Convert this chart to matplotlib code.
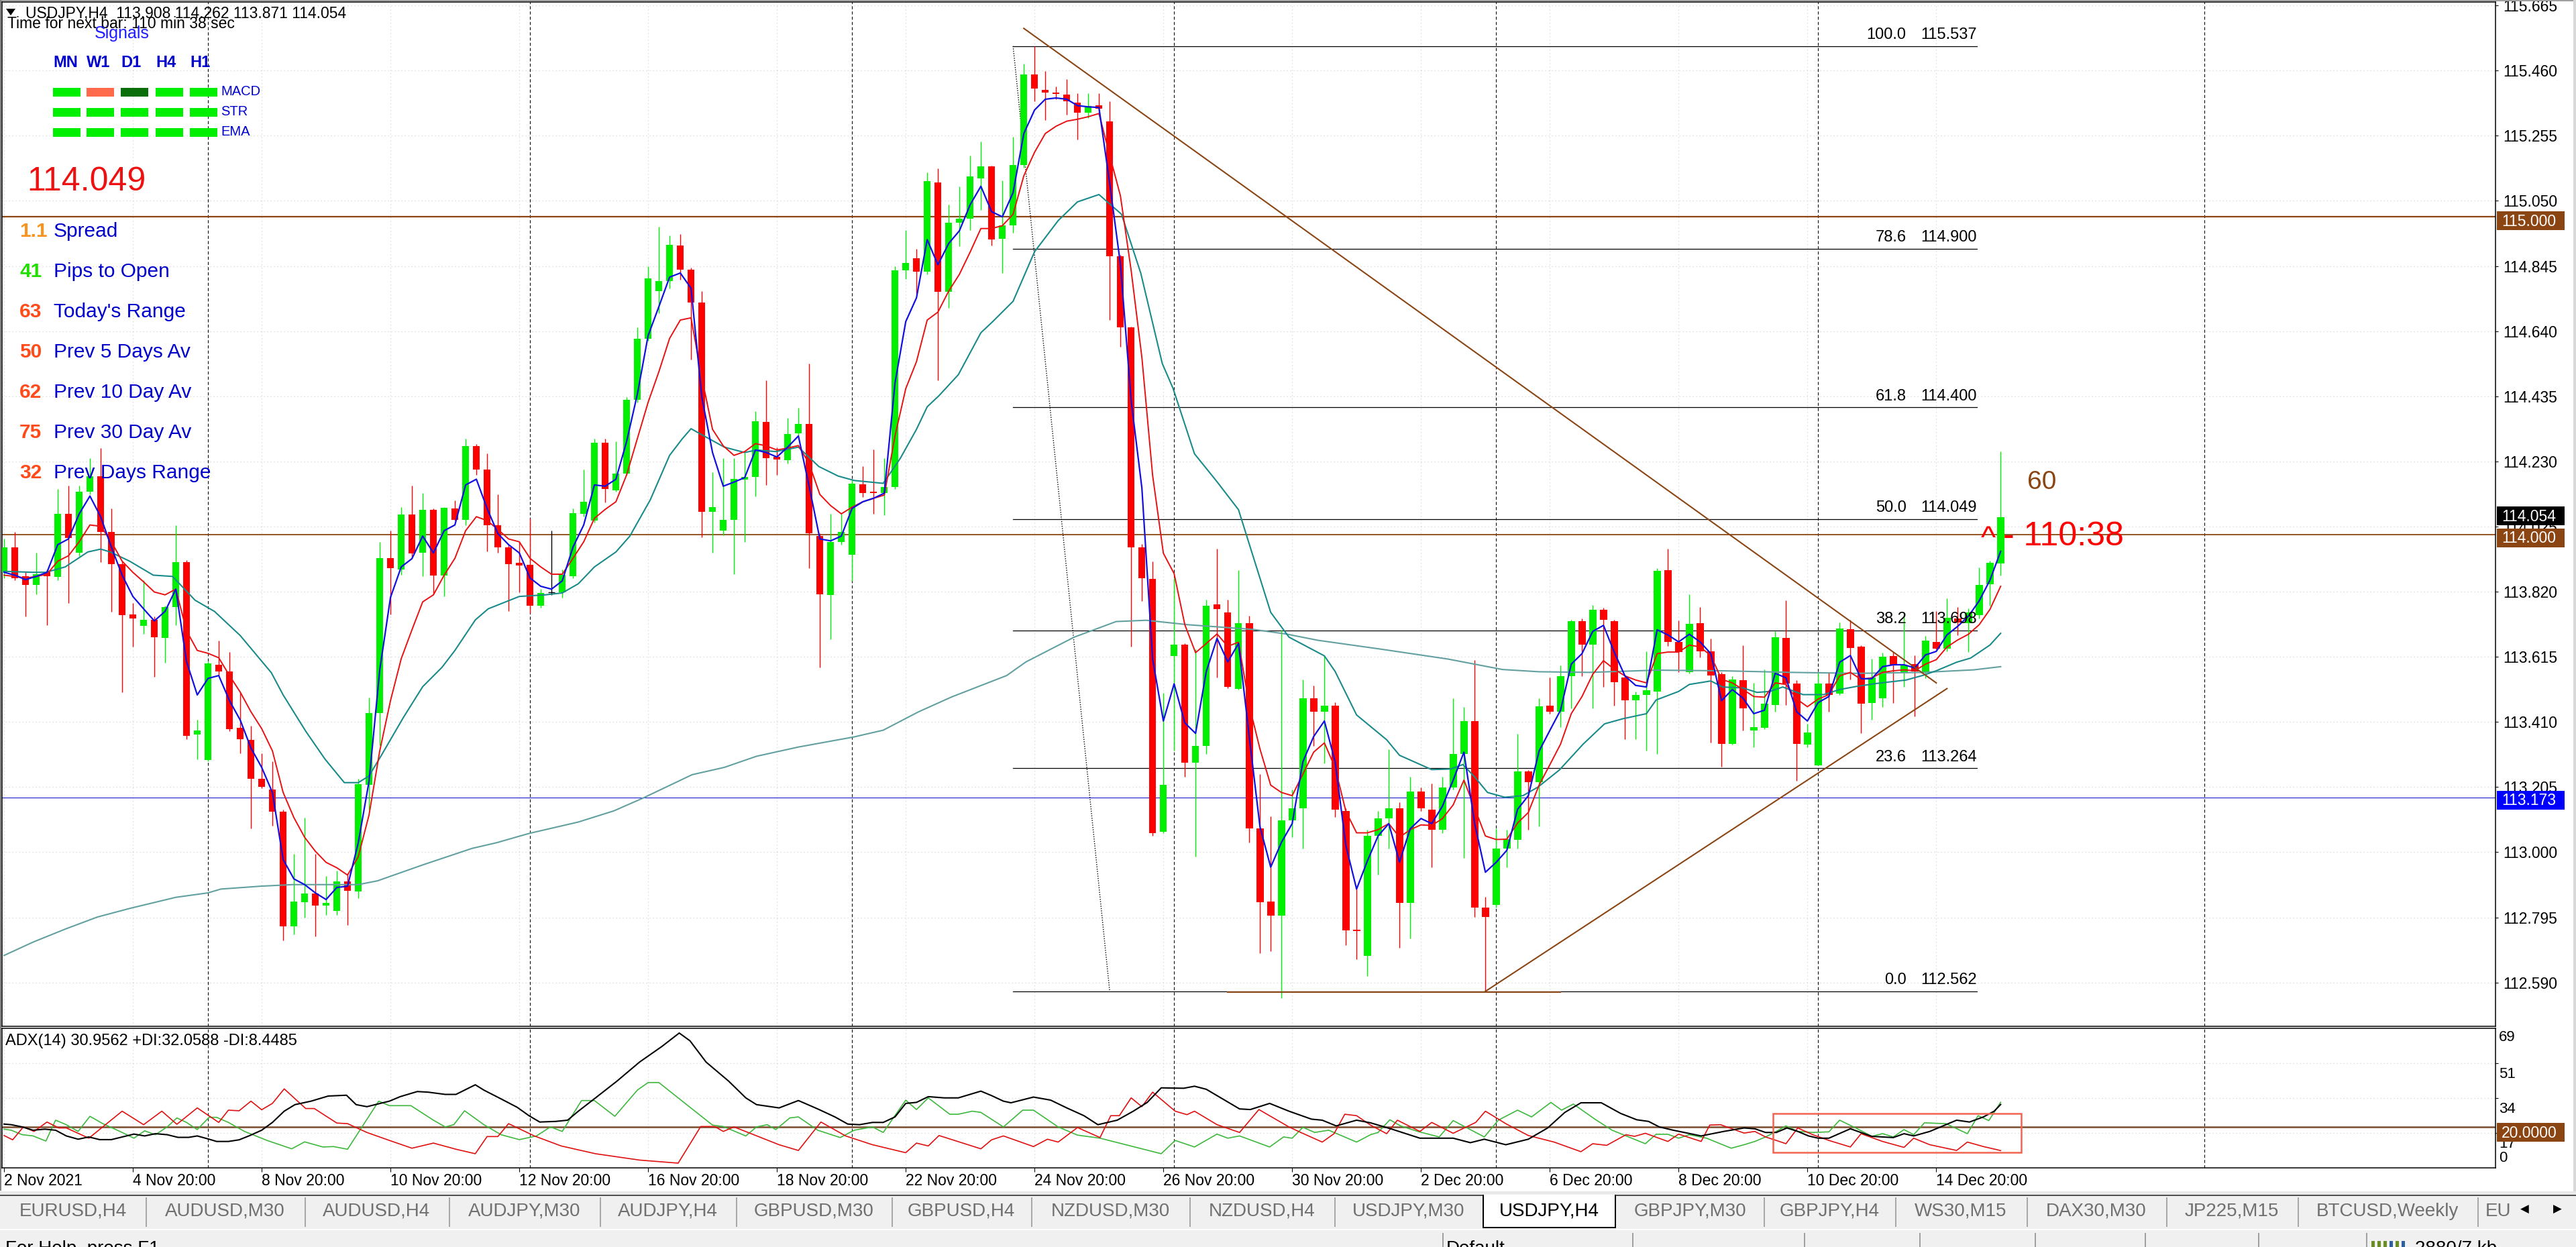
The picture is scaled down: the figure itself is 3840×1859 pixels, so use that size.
import matplotlib
matplotlib.use('Agg')
import matplotlib.pyplot as plt
from matplotlib.patches import Rectangle, Polygon
import numpy as np

plt.rcParams['font.family'] = ['Liberation Sans', 'DejaVu Sans']

# ---------------- data ----------------
opens = [
    113.881, 113.960, 113.869, 113.841, 113.881, 113.867, 114.065, 113.942, 114.135, 114.183,
    114.007, 113.907, 113.748, 113.713, 113.732, 113.674, 113.772, 113.914, 113.370, 113.290,
    113.591, 113.569, 113.391, 113.353, 113.232, 113.197, 113.127, 112.767, 112.842, 112.869,
    112.832, 112.816, 112.907, 112.876, 113.213, 113.437, 113.925, 113.890, 114.063, 113.942,
    114.077, 113.870, 114.083, 114.047, 114.279, 114.205, 114.030, 113.960, 113.910, 113.905,
    113.775, 113.819, 113.819, 113.868, 114.065, 114.044, 114.288, 114.140, 114.191, 114.424,
    114.617, 114.766, 114.798, 114.910, 114.833, 114.730, 114.072, 114.012, 114.047, 114.173,
    114.182, 114.354, 114.244, 114.233, 114.319, 114.349, 113.995, 113.809, 113.977, 113.937,
    114.159, 114.135, 114.131, 114.149, 114.831, 114.870, 114.828, 115.109, 114.763, 114.982,
    114.995, 115.121, 115.158, 114.930, 114.973, 115.164, 115.448, 115.399, 115.391, 115.385,
    115.360, 115.327, 115.350, 115.301, 114.875, 114.652, 113.959, 113.861, 113.064, 113.618,
    113.653, 113.282, 113.335, 113.779, 113.755, 113.515, 113.720, 113.074, 112.845, 112.800,
    113.100, 113.139, 113.485, 113.442, 113.462, 113.129, 112.757, 112.673, 113.051, 113.106,
    113.139, 112.841, 113.192, 113.133, 113.071, 113.203, 113.309, 113.413, 112.826, 112.835,
    113.012, 113.039, 113.254, 113.221, 113.462, 113.443, 113.555, 113.727, 113.654, 113.764,
    113.727, 113.549, 113.479, 113.496, 113.506, 113.888, 113.662, 113.566, 113.721, 113.632,
    113.560, 113.340, 113.542, 113.383, 113.391, 113.464, 113.675, 113.531, 113.338, 113.273,
    113.531, 113.499, 113.702, 113.646, 113.469, 113.484, 113.617, 113.566, 113.592, 113.566,
    113.662, 113.641, 113.735, 113.721, 113.746, 113.843, 113.908]
highs = [
    113.986, 114.007, 113.881, 113.942, 113.890, 114.144, 114.153, 114.153, 114.240, 114.272,
    114.083, 113.916, 113.784, 113.855, 113.741, 113.776, 114.030, 113.920, 113.416, 113.600,
    113.665, 113.630, 113.504, 113.398, 113.311, 113.285, 113.135, 112.995, 113.109, 112.995,
    112.925, 112.942, 112.934, 113.232, 113.486, 113.977, 114.012, 114.086, 114.153, 114.130,
    114.083, 114.086, 114.107, 114.302, 114.284, 114.255, 114.126, 113.968, 113.977, 114.051,
    113.828, 114.012, 113.889, 114.082, 114.205, 114.302, 114.302, 114.293, 114.433, 114.652,
    114.845, 114.968, 114.942, 114.945, 114.840, 114.766, 114.196, 114.240, 114.240, 114.258,
    114.389, 114.486, 114.275, 114.366, 114.398, 114.538, 114.003, 114.065, 114.065, 114.170,
    114.214, 114.267, 114.240, 114.845, 114.959, 114.898, 115.140, 115.152, 115.038, 115.096,
    115.193, 115.237, 115.161, 115.115, 115.252, 115.481, 115.537, 115.458, 115.409, 115.434,
    115.389, 115.389, 115.389, 115.364, 114.881, 114.655, 113.971, 113.916, 113.501, 113.863,
    113.657, 113.638, 113.794, 113.955, 113.794, 113.888, 113.745, 113.246, 113.113, 113.700,
    113.198, 113.544, 113.524, 113.618, 113.472, 113.139, 112.884, 113.071, 113.129, 113.325,
    113.158, 113.237, 113.203, 113.217, 113.237, 113.485, 113.456, 113.605, 112.859, 113.074,
    113.071, 113.372, 113.259, 113.485, 113.549, 113.587, 113.732, 113.735, 113.778, 113.770,
    113.732, 113.555, 113.506, 113.632, 113.893, 113.955, 113.730, 113.811, 113.772, 113.673,
    113.566, 113.555, 113.652, 113.533, 113.576, 113.695, 113.793, 113.542, 113.404, 113.566,
    113.566, 113.724, 113.732, 113.652, 113.609, 113.627, 113.630, 113.750, 113.619, 113.681,
    113.759, 113.800, 113.772, 113.767, 113.896, 113.917, 114.262]
lows = [
    113.863, 113.855, 113.741, 113.811, 113.714, 113.855, 113.784, 113.933, 114.126, 113.914,
    113.756, 113.504, 113.648, 113.688, 113.551, 113.597, 113.714, 113.355, 113.293, 113.285,
    113.556, 113.381, 113.311, 113.074, 113.202, 113.083, 112.723, 112.741, 112.793, 112.735,
    112.802, 112.802, 112.771, 112.855, 113.135, 113.337, 113.749, 113.872, 113.925, 113.869,
    113.811, 113.805, 114.044, 114.030, 114.188, 113.947, 113.942, 113.758, 113.819, 113.752,
    113.770, 113.810, 113.802, 113.863, 114.056, 114.038, 114.100, 114.135, 114.188, 114.416,
    114.609, 114.696, 114.775, 114.802, 114.551, 113.991, 113.942, 113.998, 113.875, 113.977,
    114.121, 114.156, 114.188, 114.223, 114.310, 113.893, 113.582, 113.670, 113.968, 113.854,
    114.117, 114.065, 114.061, 114.144, 114.805, 114.758, 114.819, 114.486, 114.714, 114.907,
    114.959, 115.021, 114.910, 114.822, 114.949, 115.155, 115.364, 115.305, 115.370, 115.321,
    115.243, 115.311, 115.321, 114.675, 114.591, 113.648, 113.790, 113.051, 113.061, 113.319,
    113.237, 112.986, 113.309, 113.550, 113.517, 113.511, 113.031, 112.683, 112.689, 112.540,
    113.047, 113.012, 113.335, 113.280, 113.110, 112.708, 112.663, 112.610, 112.929, 113.012,
    112.698, 112.728, 113.129, 112.953, 113.061, 113.198, 112.982, 112.796, 112.562, 112.826,
    112.953, 113.012, 113.071, 113.082, 113.436, 113.393, 113.453, 113.555, 113.453, 113.520,
    113.462, 113.356, 113.356, 113.320, 113.310, 113.649, 113.566, 113.563, 113.614, 113.345,
    113.270, 113.338, 113.383, 113.331, 113.387, 113.442, 113.463, 113.224, 113.331, 113.273,
    113.442, 113.496, 113.544, 113.374, 113.417, 113.456, 113.469, 113.520, 113.428, 113.547,
    113.639, 113.632, 113.682, 113.630, 113.735, 113.775, 113.871]
closes = [
    113.960, 113.863, 113.841, 113.876, 113.869, 114.065, 113.990, 114.135, 114.183, 114.007,
    113.907, 113.746, 113.735, 113.732, 113.676, 113.772, 113.912, 113.367, 113.384, 113.595,
    113.569, 113.388, 113.355, 113.232, 113.206, 113.127, 112.767, 112.844, 112.869, 112.832,
    112.841, 112.907, 112.878, 113.214, 113.437, 113.925, 113.893, 114.062, 113.940, 114.077,
    113.870, 114.084, 114.047, 114.279, 114.205, 114.030, 113.960, 113.907, 113.903, 113.775,
    113.816, 113.819, 113.872, 114.068, 114.103, 114.288, 114.144, 114.191, 114.423, 114.617,
    114.807, 114.798, 114.912, 114.833, 114.731, 114.072, 114.086, 114.047, 114.175, 114.182,
    114.356, 114.240, 114.237, 114.316, 114.349, 114.003, 113.812, 113.977, 114.007, 114.161,
    114.131, 114.131, 114.149, 114.831, 114.854, 114.828, 115.112, 114.763, 114.982, 114.995,
    115.126, 115.158, 114.928, 114.973, 115.164, 115.448, 115.403, 115.391, 115.387, 115.364,
    115.327, 115.348, 115.340, 114.875, 114.652, 113.959, 113.863, 113.061, 113.213, 113.653,
    113.282, 113.335, 113.775, 113.765, 113.520, 113.720, 113.074, 112.843, 112.800, 113.100,
    113.139, 113.485, 113.442, 113.462, 113.133, 112.753, 112.751, 113.051, 113.106, 113.139,
    112.841, 113.192, 113.139, 113.071, 113.203, 113.309, 113.413, 112.826, 112.796, 113.012,
    113.041, 113.254, 113.221, 113.460, 113.443, 113.555, 113.727, 113.654, 113.764, 113.732,
    113.536, 113.479, 113.496, 113.510, 113.886, 113.662, 113.630, 113.718, 113.632, 113.557,
    113.340, 113.544, 113.453, 113.393, 113.467, 113.676, 113.531, 113.340, 113.377, 113.530,
    113.496, 113.705, 113.643, 113.467, 113.549, 113.616, 113.591, 113.587, 113.568, 113.666,
    113.641, 113.738, 113.723, 113.754, 113.842, 113.910, 114.054]

ma_fast = [
    113.881, 113.872, 113.858, 113.868, 113.881, 113.968, 113.986, 114.065, 114.121, 114.056,
    113.960, 113.872, 113.805, 113.766, 113.728, 113.758, 113.828, 113.600, 113.495, 113.547,
    113.556, 113.477, 113.416, 113.328, 113.267, 113.188, 112.977, 112.916, 112.898, 112.872,
    112.851, 112.889, 112.893, 113.030, 113.223, 113.574, 113.802, 113.898, 113.924, 113.995,
    113.942, 114.012, 114.030, 114.156, 114.174, 114.082, 114.003, 113.968, 113.942, 113.863,
    113.837, 113.828, 113.854, 113.960, 114.030, 114.156, 114.152, 114.174, 114.293, 114.442,
    114.626, 114.717, 114.810, 114.823, 114.775, 114.433, 114.258, 114.152, 114.165, 114.179,
    114.266, 114.258, 114.244, 114.275, 114.310, 114.152, 113.986, 113.980, 113.995, 114.082,
    114.103, 114.114, 114.130, 114.477, 114.670, 114.745, 114.928, 114.849, 114.916, 114.956,
    115.038, 115.096, 115.016, 115.000, 115.076, 115.262, 115.336, 115.370, 115.374, 115.370,
    115.350, 115.346, 115.344, 115.105, 114.851, 114.421, 114.146, 113.608, 113.413, 113.530,
    113.407, 113.374, 113.569, 113.673, 113.599, 113.657, 113.364, 113.080, 112.953, 113.031,
    113.090, 113.285, 113.364, 113.413, 113.285, 113.021, 112.884, 112.972, 113.051, 113.090,
    112.969, 113.074, 113.106, 113.090, 113.145, 113.227, 113.315, 113.090, 112.937, 112.968,
    113.006, 113.135, 113.178, 113.318, 113.383, 113.447, 113.592, 113.625, 113.695, 113.714,
    113.630, 113.555, 113.525, 113.520, 113.700, 113.684, 113.662, 113.686, 113.662, 113.625,
    113.477, 113.512, 113.485, 113.436, 113.447, 113.563, 113.549, 113.442, 113.413, 113.471,
    113.490, 113.598, 113.619, 113.546, 113.546, 113.584, 113.590, 113.590, 113.580, 113.621,
    113.632, 113.684, 113.711, 113.743, 113.791, 113.856, 113.947]
ma_mid = [
    113.872, 113.868, 113.863, 113.868, 113.875, 113.916, 113.933, 113.977, 114.030, 114.026,
    113.977, 113.916, 113.881, 113.851, 113.819, 113.810, 113.828, 113.697, 113.635, 113.626,
    113.612, 113.556, 113.504, 113.442, 113.389, 113.319, 113.188, 113.109, 113.047, 113.003,
    112.968, 112.951, 112.928, 112.986, 113.117, 113.319, 113.477, 113.609, 113.700, 113.788,
    113.810, 113.872, 113.925, 114.012, 114.056, 114.044, 114.016, 113.986, 113.977, 113.925,
    113.898, 113.875, 113.875, 113.925, 113.977, 114.051, 114.079, 114.103, 114.188, 114.302,
    114.416, 114.512, 114.617, 114.675, 114.682, 114.495, 114.331, 114.279, 114.249, 114.261,
    114.286, 114.279, 114.266, 114.272, 114.280, 114.223, 114.126, 114.091, 114.065, 114.086,
    114.103, 114.114, 114.124, 114.310, 114.459, 114.544, 114.675, 114.700, 114.766, 114.819,
    114.889, 114.963, 114.963, 114.972, 115.008, 115.129, 115.203, 115.262, 115.285, 115.301,
    115.307, 115.315, 115.325, 115.194, 115.066, 114.831, 114.557, 114.186, 113.941, 113.877,
    113.716, 113.628, 113.657, 113.687, 113.648, 113.661, 113.462, 113.325, 113.211, 113.188,
    113.178, 113.246, 113.315, 113.344, 113.266, 113.129, 113.061, 113.061, 113.071, 113.090,
    113.047, 113.071, 113.086, 113.084, 113.106, 113.149, 113.227, 113.139, 113.051, 113.040,
    113.041, 113.092, 113.125, 113.211, 113.275, 113.340, 113.436, 113.490, 113.560, 113.603,
    113.576, 113.555, 113.542, 113.533, 113.625, 113.630, 113.630, 113.652, 113.646, 113.619,
    113.544, 113.533, 113.512, 113.490, 113.488, 113.533, 113.528, 113.482, 113.458, 113.482,
    113.496, 113.555, 113.566, 113.544, 113.549, 113.566, 113.571, 113.574, 113.571, 113.592,
    113.606, 113.646, 113.668, 113.686, 113.716, 113.764, 113.837]

ma_trend_pts = [
    (0, 113.884), (2.7, 113.881), (3.9, 113.881), (5.7, 113.898), (7.8, 113.945), (9, 113.954),
    (9.9, 113.945), (11.7, 113.916), (13.9, 113.872), (15.7, 113.868), (17.8, 113.793),
    (19.6, 113.758), (22, 113.682), (24.9, 113.565), (26, 113.495), (28.1, 113.381),
    (29.9, 113.293), (31.7, 113.219), (33, 113.219), (34, 113.240), (35.1, 113.302),
    (37.2, 113.424), (39, 113.521), (40.8, 113.582), (42, 113.635), (43.9, 113.731),
    (45.1, 113.766), (48, 113.805), (50.4, 113.810), (52, 113.816), (53.5, 113.845),
    (55, 113.898), (57, 113.945), (58.3, 113.995), (60.2, 114.109), (62, 114.249),
    (63.2, 114.302), (64, 114.333), (65, 114.314), (67.1, 114.275), (69, 114.258),
    (70.1, 114.266), (71.9, 114.261), (74, 114.275), (75.9, 114.214), (77.7, 114.184),
    (79.2, 114.170), (81.9, 114.161), (83.5, 114.240), (85, 114.331), (86, 114.402),
    (87.1, 114.437), (88.9, 114.503), (91, 114.635), (92.1, 114.670), (94, 114.734),
    (96, 114.890), (98.2, 114.988), (100, 115.047), (102, 115.070), (104.1, 115.008),
    (105.9, 114.822), (107.9, 114.538), (108.9, 114.460), (110.9, 114.254), (113, 114.166),
    (115, 114.078), (116, 113.970), (118, 113.755), (119.7, 113.677), (123, 113.618),
    (124, 113.569), (126, 113.432), (128.8, 113.354), (130, 113.305), (133, 113.260),
    (134.8, 113.262), (135.9, 113.276), (137, 113.237), (138.2, 113.188), (139.8, 113.173),
    (141.5, 113.178), (142.9, 113.205), (144.9, 113.259), (147.1, 113.340), (149.1, 113.404),
    (150.8, 113.420), (153, 113.436), (153.9, 113.479), (156, 113.506), (157, 113.528),
    (159, 113.539), (160.1, 113.520), (162, 113.517), (163.3, 113.503), (164.5, 113.506),
    (165.7, 113.520), (167.6, 113.496), (169.5, 113.496), (171, 113.512), (172.6, 113.522),
    (174.4, 113.531), (177.2, 113.542), (178.8, 113.557), (180, 113.571), (181.9, 113.598),
    (183.2, 113.611), (185, 113.652), (186, 113.689)]

ma_slow_pts = [
    (0, 112.675), (2.7, 112.717), (5.7, 112.758), (8.7, 112.796), (11.7, 112.823), (16, 112.858),
    (19, 112.872), (20.2, 112.884), (23.9, 112.893), (26.9, 112.898), (33, 112.898),
    (34.8, 112.910), (39, 112.960), (43.6, 113.012), (45.9, 113.030), (48.9, 113.059),
    (53.5, 113.095), (56.8, 113.130), (59.5, 113.170), (64.1, 113.244), (67.1, 113.267),
    (70.1, 113.302), (74, 113.331), (79.2, 113.363), (81.9, 113.384), (85.2, 113.442),
    (88.3, 113.489), (93.4, 113.556), (95.2, 113.599), (99.7, 113.677), (103.6, 113.726),
    (106.4, 113.730), (110.3, 113.716), (116.4, 113.701), (119.4, 113.687), (122.4, 113.667),
    (128.5, 113.638), (134.5, 113.608), (139.6, 113.575), (143, 113.568), (147.7, 113.566),
    (153.9, 113.573), (160.1, 113.571), (166.4, 113.566), (172.6, 113.563), (178.8, 113.566),
    (183.5, 113.574), (186, 113.584)]

adx_pts = [
    (0, 21.4), (0.66, 21.1), (1.7, 20.0), (2.7, 18.4), (3.8, 18.9), (4.8, 18.4), (5.8, 15.6),
    (6.9, 14.0), (7.9, 15.1), (8.9, 13.8), (10.0, 13.8), (11.0, 15.1), (12.1, 16.5), (13.1, 15.6),
    (14.1, 16.7), (15.2, 16.2), (16.2, 14.9), (17.2, 14.9), (18.0, 15.6), (19.1, 14.0),
    (19.8, 12.9), (20.9, 12.9), (21.9, 13.7), (22.9, 15.8), (24.0, 18.4), (25.0, 22.2),
    (26.1, 27.7), (27.1, 30.9), (28.6, 32.6), (30.2, 35.1), (31.9, 35.5), (32.8, 30.9),
    (33.8, 29.9), (35.9, 32.6), (36.9, 34.8), (38.5, 37.3), (39.5, 37.0), (41.1, 35.9),
    (42.1, 35.9), (43.9, 40.6), (44.7, 38.0), (46.3, 33.7), (47.8, 29.6), (48.9, 25.5),
    (49.9, 22.4), (51.4, 22.7), (52.5, 23.3), (53.5, 27.7), (55.1, 34.2), (57.1, 42.4),
    (59.2, 51.7), (61.3, 59.4), (62.9, 65.9), (63.9, 62.1), (65.4, 51.7), (67.5, 42.4),
    (69.1, 34.2), (70.1, 30.9), (72.2, 29.3), (74.0, 32.9), (75.8, 28.8), (77.4, 24.9),
    (78.6, 21.4), (79.7, 21.1), (80.9, 22.2), (81.9, 22.2), (83.0, 24.9), (84.0, 31.5),
    (85.0, 32.0), (86.1, 34.8), (87.6, 34.2), (88.9, 34.2), (91.0, 37.5), (92.0, 35.3),
    (93.1, 32.6), (93.8, 31.8), (95.9, 34.6), (97.5, 33.1), (99.0, 29.3), (100.6, 25.5),
    (101.9, 21.1), (103.7, 23.3), (105.2, 27.7), (106.5, 32.0), (107.8, 39.1), (109.9, 38.9),
    (110.9, 39.9), (112.0, 38.4), (113.0, 35.3), (115.1, 28.8), (116.1, 28.5), (117.9, 31.5),
    (119.7, 27.7), (121.8, 23.8), (122.8, 23.3), (124.1, 20.5), (126.0, 23.3), (127.3, 22.0),
    (129.3, 18.9), (131.9, 14.5), (135.0, 14.5), (136.6, 12.3), (137.9, 14.0), (139.9, 11.3),
    (142.0, 14.0), (143.8, 19.5), (145.4, 27.1), (146.9, 31.8), (148.8, 31.8), (150.6, 26.6),
    (152.1, 23.5), (153.2, 22.7), (154.2, 20.0), (155.5, 18.4), (158.1, 15.6), (160.2, 17.8),
    (162.1, 19.5), (163.1, 19.1), (164.1, 17.3), (165.1, 17.3), (166.1, 19.5), (167.1, 17.8),
    (168.1, 15.6), (169.0, 14.5), (170.0, 14.5), (172.0, 19.1), (174.0, 15.4), (176.0, 14.8),
    (177.0, 16.7), (177.9, 15.6), (179.4, 17.8), (180.9, 21.1), (181.9, 23.3), (183.1, 22.4),
    (184.4, 24.9), (185.4, 27.7), (186.0, 30.96)]

plus_di_pts = [
    (0, 18.9), (0.66, 18.4), (1.7, 16.2), (2.7, 15.6), (3.9, 13.1), (4.8, 23.3), (5.8, 21.1),
    (6.9, 17.8), (8.0, 25.2), (9.2, 21.6), (10.8, 17.8), (12.1, 14.5), (13.1, 18.1), (14.1, 16.2),
    (15.2, 20.0), (16.1, 24.4), (17.0, 22.2), (18.0, 18.7), (19.1, 24.7), (19.8, 24.7),
    (20.9, 22.2), (22.4, 17.8), (24.5, 13.4), (26.8, 9.3), (28.0, 12.7), (29.7, 10.2),
    (30.7, 10.4), (32.0, 9.1), (34.9, 32.6), (35.9, 30.4), (37.9, 30.4), (40.0, 23.3),
    (41.1, 20.0), (41.9, 21.1), (42.9, 27.9), (44.7, 21.1), (46.3, 16.2), (48.0, 13.8),
    (49.6, 15.6), (50.9, 20.0), (52.0, 17.8), (53.8, 32.9), (55.0, 32.9), (56.9, 25.2),
    (59.0, 38.0), (60.0, 41.7), (61.0, 41.7), (62.8, 34.2), (64.9, 25.5), (66.0, 20.9),
    (67.0, 20.2), (69.1, 15.6), (70.1, 20.0), (71.1, 21.1), (71.9, 18.7), (73.2, 24.4),
    (74.0, 24.9), (75.8, 18.4), (77.9, 14.8), (79.2, 18.4), (80.9, 20.0), (81.9, 17.3),
    (84.0, 33.1), (85.0, 28.5), (86.1, 34.2), (88.1, 26.2), (88.9, 26.2), (90.2, 27.7),
    (91.0, 27.1), (93.1, 20.0), (94.9, 28.2), (95.9, 28.2), (98.2, 20.0), (100.0, 16.0),
    (102.1, 14.5), (107.8, 6.9), (109.1, 13.4), (110.9, 10.2), (113.0, 16.5), (114.0, 14.5),
    (115.1, 15.6), (117.9, 10.2), (119.2, 15.1), (120.0, 14.5), (121.0, 19.8), (122.1, 17.3),
    (123.4, 18.4), (126.0, 12.6), (127.3, 16.2), (128.0, 17.3), (129.1, 23.5), (130.1, 20.5),
    (131.7, 17.8), (133.7, 15.1), (135.0, 23.1), (137.9, 15.1), (139.2, 23.3), (141.0, 28.2),
    (142.3, 24.9), (144.1, 32.0), (145.1, 28.2), (146.2, 31.2), (148.2, 23.8), (149.8, 18.4),
    (152.9, 11.8), (153.9, 16.4), (155.0, 16.4), (156.0, 14.5), (157.0, 16.2), (158.6, 14.5),
    (160.9, 9.6), (162.1, 11.3), (163.1, 12.9), (164.1, 15.1), (165.1, 17.8), (166.0, 20.5),
    (167.1, 17.8), (168.5, 17.3), (170.0, 17.6), (171.0, 23.3), (172.5, 19.5), (174.0, 15.4),
    (175.0, 16.7), (176.0, 15.1), (177.0, 18.7), (177.9, 16.2), (178.9, 22.0), (180.9, 21.6),
    (182.9, 16.7), (183.9, 25.5), (184.9, 23.1), (186.0, 32.06)]

minus_di_pts = [
    (0, 15.8), (0.8, 13.7), (1.8, 20.0), (2.8, 17.8), (4.0, 22.4), (5.1, 19.5), (5.8, 19.5),
    (7.9, 14.5), (11.0, 27.7), (13.0, 21.1), (14.7, 27.7), (16.1, 21.3), (18.0, 29.3),
    (20.0, 22.2), (20.9, 28.2), (21.9, 27.9), (23.0, 32.6), (24.0, 28.4), (25.0, 31.5),
    (26.1, 38.6), (28.1, 29.0), (28.9, 29.0), (31.0, 21.9), (32.0, 21.6), (33.8, 17.3),
    (35.9, 13.4), (38.0, 9.6), (40.0, 12.1), (42.1, 9.1), (43.9, 6.9), (45.0, 15.3), (46.0, 15.3),
    (47.0, 21.6), (49.4, 15.6), (51.9, 10.7), (55.1, 6.9), (59.2, 3.8), (62.8, 2.3), (64.9, 20.2),
    (66.2, 20.2), (67.0, 17.8), (68.0, 20.0), (69.6, 16.7), (72.2, 11.3), (74.0, 8.5),
    (76.1, 22.4), (78.4, 15.6), (80.9, 11.3), (84.0, 7.4), (85.0, 12.1), (86.1, 10.7),
    (87.1, 15.8), (91.0, 9.3), (92.0, 13.7), (93.1, 15.6), (95.9, 10.4), (97.2, 14.0),
    (98.2, 12.6), (100.0, 19.7), (102.1, 14.8), (103.1, 25.5), (103.9, 25.5), (105.0, 34.2),
    (106.0, 29.9), (107.0, 37.0), (109.1, 27.7), (110.2, 26.0), (110.9, 27.7), (113.0, 21.1),
    (115.1, 17.3), (116.9, 28.5), (119.7, 20.0), (120.8, 17.3), (122.8, 12.6), (123.9, 16.7),
    (124.9, 26.2), (126.0, 25.5), (127.3, 20.9), (128.8, 16.7), (129.8, 23.3), (131.9, 17.8),
    (133.0, 22.2), (135.0, 16.9), (137.1, 22.2), (138.0, 27.7), (139.9, 21.6), (142.0, 15.8),
    (144.4, 12.6), (146.9, 7.9), (148.0, 11.8), (149.3, 11.0), (151.1, 16.2), (151.9, 15.4),
    (152.9, 16.9), (155.0, 12.9), (156.0, 16.5), (158.1, 12.9), (158.9, 20.9), (159.9, 21.1),
    (162.1, 17.0), (163.1, 17.8), (164.1, 15.1), (165.1, 13.4), (166.0, 11.8), (167.1, 19.5),
    (168.5, 16.2), (170.0, 13.4), (172.0, 10.2), (173.0, 16.7), (175.0, 12.9), (177.0, 10.0),
    (177.9, 14.5), (179.4, 11.3), (181.9, 8.5), (182.9, 12.6), (184.4, 10.4), (186.0, 8.45)]

time_tick_idx = [0, 12, 24, 36, 48, 60, 72, 84, 96, 108, 120, 132, 144, 156, 168, 180]
time_labels = ["2 Nov 2021", "4 Nov 20:00", "8 Nov 20:00", "10 Nov 20:00", "12 Nov 20:00",
               "16 Nov 20:00", "18 Nov 20:00", "22 Nov 20:00", "24 Nov 20:00", "26 Nov 20:00",
               "30 Nov 20:00", "2 Dec 20:00", "6 Dec 20:00", "8 Dec 20:00", "10 Dec 20:00",
               "14 Dec 20:00"]
week_sep_idx = [19, 49, 79, 109, 139, 169, 205]

price_ticks = [115.665, 115.460, 115.255, 115.050, 114.845, 114.640, 114.435, 114.230,
               114.025, 113.820, 113.615, 113.410, 113.205, 113.000, 112.795, 112.590]
adx_ticks = [0, 17, 34, 51, 69]

level_lines = [115.000, 114.000]
support_line = 113.173
bid_price = 114.054
adx_level = 20.0

fib_pct = [0.0, 23.6, 38.2, 50.0, 61.8, 78.6, 100.0]
fib_prices = [112.562, 113.264, 113.698, 114.049, 114.400, 114.900, 115.537]
fib_anchor = [(94, 115.537), (103, 112.562)]
fib_end = 183.8

trend_down = [(95, 115.593), (180, 113.533)]
trend_up = [(138, 112.562), (181, 113.515)]
floor_seg = [(114, 112.559), (145, 112.559)]

adx_box = [(164.8, 7.4), (187.9, 26.6)]

header_text = "USDJPY,H4  113.908 114.262 113.871 114.054"
timer_text = "Time for next bar: 110 min 38 sec"
adx_text = "ADX(14) 30.9562 +DI:32.0588 -DI:8.4485"
big_price = "114.049"
signal_tf = ["MN", "W1", "D1", "H4", "H1"]
signal_rows = ["MACD", "STR", "EMA"]
signal_colors = [["#00EE00", "#FF6A4D", "#0A6E0A", "#00EE00", "#00EE00"],
                 ["#00EE00"] * 5,
                 ["#00EE00"] * 5]
info_values = ["1.1", "41", "63", "50", "62", "75", "32"]
info_labels = ["Spread", "Pips to Open", "Today's Range", "Prev 5 Days Av",
               "Prev 10 Day Av", "Prev 30 Day Av", "Prev Days Range"]
info_value_colors = ["#F7931E", "#22DD00", "#FF4A1A", "#FF4A1A", "#FF4A1A", "#FF4A1A", "#FF4A1A"]
range_pips = "60"
countdown = "- 110:38"

tab_names = ["EURUSD,H4", "AUDUSD,M30", "AUDUSD,H4", "AUDJPY,M30", "AUDJPY,H4", "GBPUSD,M30",
             "GBPUSD,H4", "NZDUSD,M30", "NZDUSD,H4", "USDJPY,M30", "USDJPY,H4", "GBPJPY,M30",
             "GBPJPY,H4", "WS30,M15", "DAX30,M30", "JP225,M15", "BTCUSD,Weekly", "EU"]
active_tab = "USDJPY,H4"

# ---------------- layout (pixels) ----------------
W, H = 3840, 1859
DPI = 100
fig = plt.figure(figsize=(W / DPI, H / DPI), dpi=DPI)
fig.patch.set_facecolor('white')


def fx(x):
    return x / W


def fy(y):
    return 1 - y / H


def ftext(x, y, s, **kw):
    return fig.text(fx(x), fy(y), s, **kw)


def frect(x0, y0, x1, y1, **kw):
    r = Rectangle((fx(x0), fy(y1)), fx(x1) - fx(x0), fy(y0) - fy(y1),
                  transform=fig.transFigure, **kw)
    fig.patches.append(r)
    return r


PX_L, PX_R = 3, 3720
ax = fig.add_axes([fx(PX_L), fy(1530), fx(PX_R) - fx(PX_L), fy(3) - fy(1530)])
ax2 = fig.add_axes([fx(PX_L), fy(1741), fx(PX_R) - fx(PX_L), fy(1533) - fy(1741)])

XMIN, XMAX = -0.19, 232.1
for a in (ax, ax2):
    a.set_xlim(XMIN, XMAX)
    a.set_facecolor('white')
    for sp in a.spines.values():
        sp.set_color('black')
        sp.set_linewidth(1.1)
    a.set_axisbelow(True)
ax.set_ylim(112.452, 115.676)
ax2.set_ylim(0, 68.2)

GRID = dict(color='#D4D4D4', linestyle=(0, (1, 3)), linewidth=0.9)

ax.set_yticks(price_ticks)
ax.set_yticklabels([f"{p:.3f}" for p in price_ticks])
ax.yaxis.tick_right()
ax.tick_params(axis='y', length=3, width=0.8, pad=5, labelsize=16.5, colors='black')
ax.set_xticks(time_tick_idx)
ax.tick_params(axis='x', length=0, labelbottom=False)
ax.grid(True, **GRID)

ax2.set_yticks([17, 34, 51])
ax2.yaxis.tick_right()
ax2.tick_params(axis='y', length=3, width=0.8, labelright=False)
ax2.set_xticks(time_tick_idx)
ax2.set_xticklabels(time_labels, ha='left', fontsize=16.5)
ax2.tick_params(axis='x', length=4, width=0.8, pad=2)
ax2.grid(True, **GRID)

for a in (ax, ax2):
    for s in week_sep_idx:
        a.axvline(s, color='black', linestyle=(0, (4, 3)), linewidth=0.8, zorder=1.2)

# ---------------- candles ----------------
o = np.array(opens); h = np.array(highs); l = np.array(lows); c = np.array(closes)
idx = np.arange(len(o))
GREEN, RED = '#00F000', '#FF0000'
up = c > o
dn = c < o
eq = c == o
BW = 0.66
ax.vlines(idx[up], l[up], h[up], color=GREEN, linewidth=1.0, zorder=3)
ax.vlines(idx[dn], l[dn], h[dn], color=RED, linewidth=1.0, zorder=3)
ax.vlines(idx[eq], l[eq], h[eq], color='black', linewidth=1.0, zorder=3)
ax.bar(idx[up], np.maximum(c[up] - o[up], 0.003), bottom=o[up], width=BW,
       color=GREEN, linewidth=0, zorder=3.1)
ax.bar(idx[dn], np.maximum(o[dn] - c[dn], 0.003), bottom=c[dn], width=BW,
       color=RED, linewidth=0, zorder=3.1)
ax.hlines(o[eq], idx[eq] - BW / 2, idx[eq] + BW / 2, color='black', linewidth=1.0, zorder=3.1)

# moving averages
sx, sy = zip(*ma_slow_pts)
ax.plot(sx, sy, color='#62A0A0', linewidth=1.5, zorder=3.5)
tx, ty = zip(*ma_trend_pts)
ax.plot(tx, ty, color='#198A8A', linewidth=1.5, zorder=3.6)
ax.plot(idx, ma_mid, color='#E81010', linewidth=1.4, zorder=3.7)
ax.plot(idx, ma_fast, color='#1010E0', linewidth=1.6, zorder=3.8)

# horizontal levels
BROWN = '#8B4513'
ax.axhline(level_lines[0], color=BROWN, linewidth=1.6, zorder=2)
ax.axhline(level_lines[1], color=BROWN, linewidth=1.3, zorder=2)
ax.axhline(support_line, color='#1A1ACD', linewidth=0.8, zorder=2)

# fibonacci
for pct, pr in zip(fib_pct, fib_prices):
    ax.plot([fib_anchor[0][0], fib_end], [pr, pr], color='black', linewidth=0.9, zorder=2.5)
    ax.annotate(f"{pr:.3f}", xy=(fib_end, pr), xytext=(0, 4), textcoords='offset points',
                ha='right', va='bottom', fontsize=17, color='black', zorder=6)
    ax.annotate(f"{pct:.1f}", xy=(fib_end, pr), xytext=(-76, 4), textcoords='offset points',
                ha='right', va='bottom', fontsize=17, color='black', zorder=6)
(fa_x0, fa_y0), (fa_x1, fa_y1) = fib_anchor
ax.plot([fa_x0, fa_x1], [fa_y0, fa_y1], color='black', linestyle=(0, (1, 1.5)),
        linewidth=1.0, zorder=2.5)

# trend lines
for seg in (trend_down, trend_up, floor_seg):
    (x0, y0), (x1, y1) = seg
    ax.plot([x0, x1], [y0, y1], color=BROWN, linewidth=1.5, zorder=4.5)

# ---------------- ADX ----------------
ax2.axhline(adx_level, color='#7A4A2A', linewidth=1.8, zorder=2)
for pts, col, lw in ((plus_di_pts, '#3DB83D', 1.2), (minus_di_pts, '#E01010', 1.2),
                     (adx_pts, 'black', 1.5)):
    xs, ys = zip(*pts)
    ax2.plot(xs, ys, color=col, linewidth=lw, zorder=3)
(bx0, by0), (bx1, by1) = adx_box
ax2.add_patch(Rectangle((bx0, by0), bx1 - bx0, by1 - by0, fill=False,
                        edgecolor='#F06450', linewidth=1.8, zorder=4))


# ---------------- right axis boxes ----------------
def axis_box(axis, value, label, bg, fg, dy=3, z=5):
    _, yd = axis.transData.transform((0, value))
    yc = H - yd + dy
    frect(3722, yc - 14, 3823, yc + 14, facecolor=bg, edgecolor='none', zorder=z)
    ftext(3729, yc + 1, label, color=fg, fontsize=16.5, va='center', ha='left', zorder=z + 0.5)


axis_box(ax, level_lines[0], f"{level_lines[0]:.3f}", BROWN, 'white', dy=6)
axis_box(ax, level_lines[1], f"{level_lines[1]:.3f}", BROWN, 'white', dy=5, z=5)
axis_box(ax, bid_price, f"{bid_price:.3f}", 'black', 'white', dy=-2, z=7)
axis_box(ax, support_line, f"{support_line:.3f}", '#0000FF', 'white', dy=4)

for v in adx_ticks:
    _, yd = ax2.transData.transform((0, v))
    ypx = H - yd
    if v == 0:
        ypx -= 14
    else:
        ypx += 16
    ftext(3725, ypx, str(v), fontsize=16, va='center', ha='left', color='black', zorder=4)
axis_box(ax2, adx_level, f"{adx_level:.4f}", BROWN, 'white', dy=8)

# ---------------- text overlays ----------------
fig.patches.append(Polygon([[fx(9), fy(13)], [fx(23), fy(13)], [fx(16), fy(23)]],
                           closed=True, transform=fig.transFigure, facecolor='black',
                           edgecolor='none', zorder=8))
ftext(38, 20, header_text, fontsize=16.5, va='center', ha='left', color='black', zorder=8)
ftext(11, 35, timer_text, fontsize=16.5, va='center', ha='left', color='black', zorder=8)
ftext(141, 50, "Signals", fontsize=18, va='center', ha='left', color='#1E1EFF', zorder=8)

col_x = [79, 129, 180, 232, 283]
for tf, x in zip(signal_tf, col_x):
    ftext(x, 93, tf, fontsize=17, fontweight='bold', va='center', ha='left',
          color='#0000CD', zorder=8)
row_y = [137, 167, 197]
for r, (name, y) in enumerate(zip(signal_rows, row_y)):
    for k, x in enumerate(col_x):
        frect(x, y - 6.5, x + 41, y + 6.5, facecolor=signal_colors[r][k], edgecolor='none',
              zorder=8)
    ftext(329, y, name, fontsize=14.5, va='center', ha='left', color='#0000CD', zorder=8)

ftext(40, 271, big_price, fontsize=36, va='center', ha='left', color='#EE1111', zorder=8)

info_y = [345, 405, 465, 525, 585, 645, 705]
for val, lab, colr, y in zip(info_values, info_labels, info_value_colors, info_y):
    ftext(29, y, val, fontsize=21.5, fontweight='bold', va='center', ha='left', color=colr,
          zorder=8)
    ftext(80, y, lab, fontsize=21.5, va='center', ha='left', color='#0000CD', zorder=8)

ftext(3022, 719, range_pips, fontsize=28, va='center', ha='left', color=BROWN, zorder=8)
ftext(2953, 804, "^", fontsize=34, va='center', ha='left', color='#FF0000', zorder=8)
ftext(2986, 800, countdown, fontsize=36, va='center', ha='left', color='#FF0000', zorder=8)

ftext(8, 1552, adx_text, fontsize=17, va='center', ha='left', color='black', zorder=8)

# ---------------- window chrome ----------------
frect(0, 0, 3840, 2, facecolor='#A0A0A0', edgecolor='none', zorder=9)
frect(0, 0, 2, 1775, facecolor='#808080', edgecolor='none', zorder=9)
frect(3836, 0, 3840, 1780, facecolor='#D8D8D8', edgecolor='none', zorder=9)
frect(0, 1776, 3840, 1780, facecolor='#E8E8E8', edgecolor='none', zorder=9)

frect(0, 1780, 3840, 1832, facecolor='#F0F0F0', edgecolor='none', zorder=9)
frect(0, 1781, 3840, 1783, facecolor='#505050', edgecolor='none', zorder=9.1)
tab_edges = [0, 217, 454, 669, 894, 1097, 1329, 1537, 1773, 1989, 2210, 2409, 2629, 2825,
             3021, 3229, 3425, 3693, 3760]
for k, name in enumerate(tab_names):
    x0, x1 = tab_edges[k], tab_edges[k + 1]
    if name == active_tab:
        frect(x0, 1781, x1, 1830, facecolor='white', edgecolor='none', zorder=9.2)
        frect(x0, 1781, x0 + 2, 1831, facecolor='black', edgecolor='none', zorder=9.3)
        frect(x1 - 2, 1781, x1, 1831, facecolor='black', edgecolor='none', zorder=9.3)
        frect(x0, 1829, x1, 1831, facecolor='black', edgecolor='none', zorder=9.3)
        ftext((x0 + x1) / 2, 1806, name, fontsize=20, va='center', ha='center',
              color='black', zorder=9.5)
    else:
        if k > 0 and tab_names[k - 1] != active_tab:
            frect(x0, 1785, x0 + 1.5, 1829, facecolor='#A8A8A8', edgecolor='none', zorder=9.2)
        if name == "EU":
            ftext(x0 + 12, 1806, name, fontsize=20, va='center', ha='left',
                  color='#707070', zorder=9.5)
        else:
            ftext((x0 + x1) / 2, 1806, name, fontsize=20, va='center', ha='center',
                  color='#707070', zorder=9.5)
ftext(3763, 1803, "\u25C0", fontsize=12, va='center', ha='center', color='black',
      family=['DejaVu Sans'], zorder=9.5)
ftext(3812, 1803, "\u25B6", fontsize=12, va='center', ha='center', color='black',
      family=['DejaVu Sans'], zorder=9.5)

frect(0, 1832, 3840, 1859, facecolor='#F0F0F0', edgecolor='none', zorder=9)
frect(0, 1832, 3840, 1834, facecolor='#FFFFFF', edgecolor='none', zorder=9.1)
for sx_ in [2150, 2433, 2689, 2861, 3033, 3197, 3366, 3527]:
    frect(sx_, 1838, sx_ + 1.5, 1859, facecolor='#A0A0A0', edgecolor='none', zorder=9.2)
ftext(8, 1849, "For Help, press F1", fontsize=20, va='top', ha='left', color='black',
      zorder=9.5)
ftext(2156, 1849, "Default", fontsize=20, va='top', ha='left', color='black', zorder=9.5)
for k, colr in enumerate(['#6B8E23', '#6B8E23', '#6B8E23', '#2E5FA0', '#6B8E23', '#2E5FA0']):
    frect(3535 + k * 9, 1850, 3540 + k * 9, 1859, facecolor=colr, edgecolor='none', zorder=9.5)
ftext(3600, 1849, "2880/7 kb", fontsize=20, va='top', ha='left', color='black', zorder=9.5)

fig.savefig('out.png', dpi=DPI, facecolor='white')
